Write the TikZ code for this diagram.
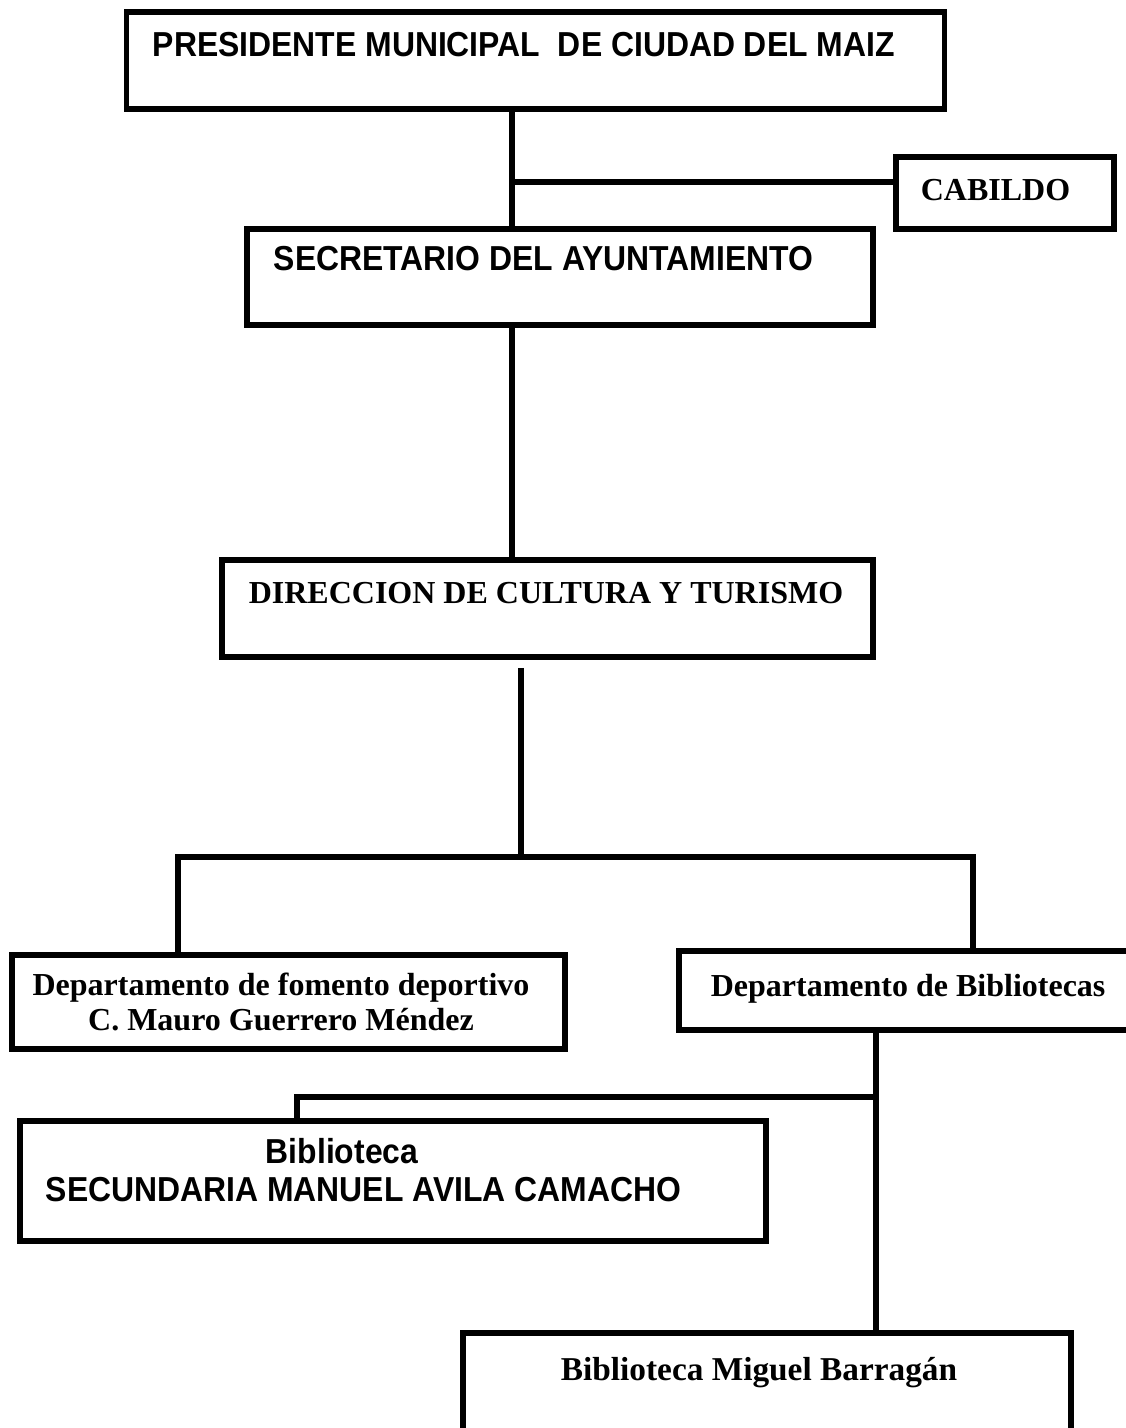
\documentclass[tikz,border=0pt]{standalone}
\usepackage{fontspec}
\setmainfont{Liberation Serif}
\newfontfamily\arialb{Liberation Sans}[FakeStretch=0.92]
\begin{document}
\begin{tikzpicture}[x=0.75pt,y=-0.75pt,
  line width=4.2pt,
  box/.style={draw,rectangle,inner sep=0pt,line width=4.2pt},
  sans/.style={font=\arialb\bfseries\fontsize{26}{31}\selectfont,inner sep=0pt},
  serif/.style={font=\bfseries\fontsize{24}{32}\selectfont,inner sep=0pt},
  conn/.style={line width=4.2pt}]
\useasboundingbox (0,0) rectangle (1126,1428);
\fill[white] (0,0) rectangle (1126,1428);

% boxes
\node[box,minimum width=818*0.75pt,minimum height=97*0.75pt] (pres) at (535.5,60.5) {};
\node[box,minimum width=218*0.75pt,minimum height=72*0.75pt] (cab) at (1005,193) {};
\node[box,minimum width=626*0.75pt,minimum height=96*0.75pt] (sec) at (560,277) {};
\node[box,minimum width=651*0.75pt,minimum height=97*0.75pt] (dir) at (547.5,608.5) {};
\node[box,minimum width=553*0.75pt,minimum height=94*0.75pt] (fom) at (288.5,1002) {};
\node[inner sep=0pt,minimum width=460*0.75pt,minimum height=73*0.75pt] (bib) at (912,990.5) {};
\draw[line cap=rect] (bib.north east) -- (bib.north west) -- (bib.south west) -- (bib.south east);
\node[box,minimum width=746*0.75pt,minimum height=120*0.75pt] (secu) at (393,1181) {};
\node[inner sep=0pt,minimum width=602*0.75pt,minimum height=130*0.75pt] (mig) at (767,1401) {};
\draw[line cap=rect] (mig.south west) -- (mig.north west) -- (mig.north east) -- (mig.south east);

% texts
\node[sans,anchor=base west] (tpres) at (150,56) {PRESIDENTE MUNICIPAL\ \ DE CIUDAD DEL MAIZ};
\node[serif,anchor=base west] (tcab) at (918,200) {CABILDO};
\node[sans,anchor=base west] (tsec) at (271,270) {SECRETARIO DEL AYUNTAMIENTO};
\node[serif,anchor=base west] (tdir) at (246,603) {DIRECCION DE CULTURA Y TURISMO};
\node[serif,anchor=base] (tfom1) at (281,995) {Departamento de fomento deportivo};
\node[serif,anchor=base] (tfom2) at (281,1030) {C. Mauro Guerrero M\'endez};
\node[serif,anchor=base west] (tbib) at (708,996) {Departamento de Bibliotecas};
\node[sans,anchor=base] (tsecu1) at (342,1163) {Biblioteca};
\node[sans,anchor=base west] (tsecu2) at (43,1201) {SECUNDARIA MANUEL AVILA CAMACHO};
\node[serif,anchor=base,font=\bfseries\fontsize{25}{32}\selectfont] (tmig) at (759,1380) {Biblioteca Miguel Barrag\'an};

% connector coordinates
\coordinate (j1) at (512,182);
\coordinate (j2) at (521,857);
\coordinate (jl) at (178,857);
\coordinate (jr) at (973,857);
\coordinate (j3) at (876,1097);
\coordinate (j4) at (297,1097);

% connectors
\draw[conn] (pres.south -| j1) -- (sec.north -| j1);
\draw[conn] (j1) -- (cab.west |- j1);
\draw[conn] (sec.south -| j1) -- (dir.north -| j1);
\draw[conn] ([yshift=-6pt]dir.south -| j2) -- (j2);
\draw[conn,line cap=rect] (jl) -- (jr);
\draw[conn] (jl) -- (fom.north -| jl);
\draw[conn] (jr) -- (bib.north -| jr);
\draw[conn] (bib.south -| j3) -- (mig.north -| j3);
\draw[conn,line cap=rect] (j4) -- (j3);
\draw[conn] (j4) -- (secu.north -| j4);
\end{tikzpicture}
\end{document}
